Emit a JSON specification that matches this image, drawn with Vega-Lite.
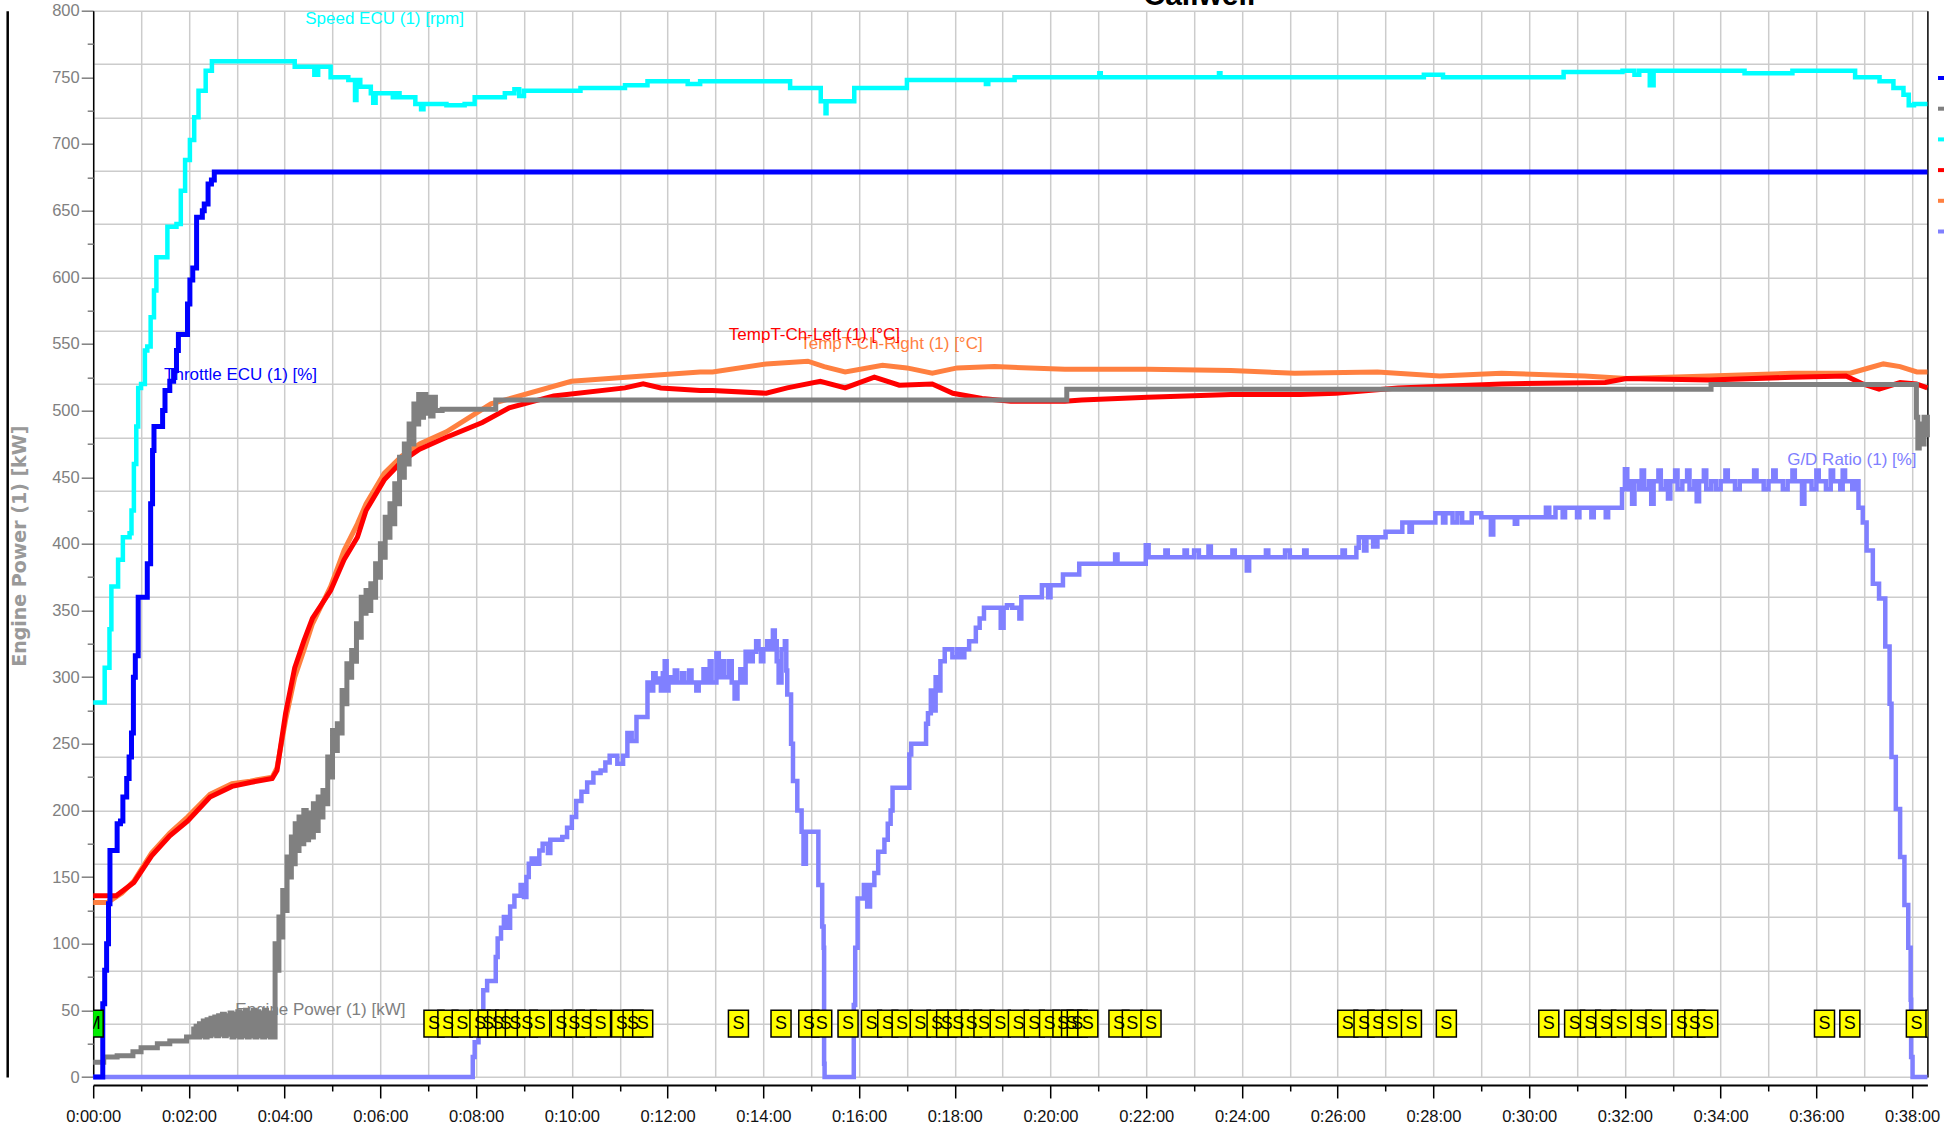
{
  "$schema": "https://vega.github.io/schema/vega-lite/v6.json",
  "width": 1834.2,
  "height": 1066.3,
  "autosize": {"type": "none"},
  "padding": {"left": 93.2, "top": 10.7, "right": 16.6, "bottom": 55},
  "background": "white",
  "config": {"view": {"stroke": null}},
  "datasets": {
    "thr": [{"t":0,"v":0},{"t":0.2,"v":0},{"t":0.2,"v":55},{"t":0.24,"v":80},{"t":0.28,"v":100},{"t":0.32,"v":130},{"t":0.35,"v":170},{"t":0.45,"v":170},{"t":0.5,"v":190},{"t":0.57,"v":192},{"t":0.62,"v":210},{"t":0.7,"v":224},{"t":0.75,"v":240},{"t":0.8,"v":258},{"t":0.84,"v":300},{"t":0.88,"v":316},{"t":0.94,"v":360},{"t":1.08,"v":360},{"t":1.13,"v":385},{"t":1.2,"v":430},{"t":1.24,"v":470},{"t":1.27,"v":488},{"t":1.4,"v":488},{"t":1.45,"v":500},{"t":1.5,"v":515},{"t":1.6,"v":522},{"t":1.68,"v":530},{"t":1.74,"v":545},{"t":1.78,"v":557},{"t":1.9,"v":557},{"t":1.97,"v":580},{"t":2.02,"v":598},{"t":2.08,"v":607},{"t":2.16,"v":645},{"t":2.28,"v":650},{"t":2.32,"v":655},{"t":2.4,"v":670},{"t":2.47,"v":673},{"t":2.53,"v":679},{"t":38.32,"v":679}],
    "spd": [{"t":0,"v":281},{"t":0.24,"v":281},{"t":0.24,"v":307},{"t":0.34,"v":336},{"t":0.38,"v":368},{"t":0.52,"v":388},{"t":0.62,"v":405},{"t":0.76,"v":408},{"t":0.8,"v":425},{"t":0.85,"v":460},{"t":0.9,"v":488},{"t":0.94,"v":517},{"t":1.0,"v":520},{"t":1.08,"v":545},{"t":1.13,"v":548},{"t":1.2,"v":570},{"t":1.27,"v":590},{"t":1.32,"v":615},{"t":1.5,"v":615},{"t":1.55,"v":638},{"t":1.74,"v":640},{"t":1.83,"v":665},{"t":1.92,"v":688},{"t":2.02,"v":703},{"t":2.11,"v":720},{"t":2.2,"v":740},{"t":2.35,"v":755},{"t":2.48,"v":762},{"t":4.07,"v":762},{"t":4.21,"v":758},{"t":4.58,"v":758},{"t":4.62,"v":752},{"t":4.7,"v":758},{"t":4.96,"v":750},{"t":5.33,"v":748},{"t":5.45,"v":748},{"t":5.47,"v":733},{"t":5.5,"v":748},{"t":5.58,"v":743},{"t":5.8,"v":738},{"t":5.85,"v":731},{"t":5.9,"v":738},{"t":6.26,"v":735},{"t":6.35,"v":738},{"t":6.4,"v":735},{"t":6.73,"v":730},{"t":6.85,"v":726},{"t":6.9,"v":730},{"t":7.38,"v":729},{"t":7.76,"v":730},{"t":7.97,"v":735},{"t":8.6,"v":738},{"t":8.8,"v":741},{"t":8.9,"v":736},{"t":9.0,"v":740},{"t":10.18,"v":742},{"t":11.11,"v":744},{"t":11.58,"v":747},{"t":12.42,"v":745},{"t":12.68,"v":747},{"t":14.55,"v":747},{"t":14.56,"v":742},{"t":15.1,"v":742},{"t":15.2,"v":732},{"t":15.3,"v":723},{"t":15.32,"v":732},{"t":15.85,"v":732},{"t":15.9,"v":742},{"t":16.97,"v":742},{"t":17.0,"v":748},{"t":18.6,"v":748},{"t":18.65,"v":745},{"t":18.7,"v":748},{"t":19.21,"v":748},{"t":19.25,"v":750},{"t":21.0,"v":750},{"t":21.02,"v":753},{"t":21.05,"v":750},{"t":23.5,"v":750},{"t":23.52,"v":753},{"t":23.55,"v":750},{"t":27.3,"v":750},{"t":27.8,"v":752},{"t":28.2,"v":750},{"t":30.72,"v":754},{"t":31.95,"v":755},{"t":32.2,"v":752},{"t":32.3,"v":755},{"t":32.52,"v":744},{"t":32.6,"v":755},{"t":34.5,"v":753},{"t":35.5,"v":755},{"t":36.74,"v":755},{"t":36.81,"v":750},{"t":37.32,"v":747},{"t":37.61,"v":742},{"t":37.82,"v":737},{"t":37.93,"v":729},{"t":38.04,"v":730},{"t":38.32,"v":730}],
    "tl": [{"t":0,"v":136},{"t":0.48,"v":136},{"t":0.85,"v":146},{"t":1.22,"v":166},{"t":1.6,"v":181},{"t":1.97,"v":192},{"t":2.44,"v":210},{"t":2.9,"v":218},{"t":3.28,"v":221},{"t":3.74,"v":224},{"t":3.84,"v":230},{"t":4.02,"v":273},{"t":4.21,"v":307},{"t":4.4,"v":327},{"t":4.58,"v":344},{"t":4.96,"v":365},{"t":5.24,"v":388},{"t":5.52,"v":405},{"t":5.7,"v":425},{"t":6.08,"v":448},{"t":6.45,"v":462},{"t":6.82,"v":471},{"t":7.38,"v":480},{"t":8.13,"v":491},{"t":8.69,"v":502},{"t":9.62,"v":511},{"t":11.11,"v":517},{"t":11.49,"v":520},{"t":11.86,"v":517},{"t":12.68,"v":515},{"t":12.94,"v":515},{"t":14.06,"v":513},{"t":14.5,"v":517},{"t":15.19,"v":522},{"t":15.71,"v":517},{"t":16.32,"v":525},{"t":16.84,"v":519},{"t":17.53,"v":520},{"t":17.96,"v":513},{"t":18.57,"v":509},{"t":19.17,"v":507},{"t":20.3,"v":507},{"t":20.65,"v":508},{"t":22.03,"v":510},{"t":23.77,"v":512},{"t":25.22,"v":512},{"t":25.96,"v":513},{"t":27.26,"v":517},{"t":29.43,"v":520},{"t":31.59,"v":521},{"t":32.03,"v":524},{"t":33.76,"v":523},{"t":35.49,"v":525},{"t":36.62,"v":526},{"t":36.97,"v":520},{"t":37.31,"v":516},{"t":37.75,"v":521},{"t":38.09,"v":520},{"t":38.32,"v":517}],
    "tr": [{"t":0,"v":131},{"t":0.3,"v":131},{"t":0.6,"v":138},{"t":0.85,"v":147},{"t":1.22,"v":168},{"t":1.6,"v":183},{"t":1.97,"v":195},{"t":2.44,"v":212},{"t":2.9,"v":220},{"t":3.28,"v":222},{"t":3.74,"v":225},{"t":3.84,"v":232},{"t":4.02,"v":268},{"t":4.21,"v":300},{"t":4.4,"v":320},{"t":4.58,"v":340},{"t":4.96,"v":368},{"t":5.24,"v":395},{"t":5.52,"v":415},{"t":5.7,"v":430},{"t":6.08,"v":453},{"t":6.45,"v":466},{"t":6.82,"v":475},{"t":7.38,"v":484},{"t":8.31,"v":505},{"t":9.99,"v":522},{"t":11.49,"v":526},{"t":12.68,"v":529},{"t":12.94,"v":529},{"t":14.06,"v":535},{"t":14.93,"v":537},{"t":15.27,"v":533},{"t":15.71,"v":529},{"t":16.49,"v":534},{"t":17.0,"v":532},{"t":17.53,"v":528},{"t":18.05,"v":532},{"t":18.83,"v":533},{"t":20.3,"v":531},{"t":22.03,"v":531},{"t":23.77,"v":530},{"t":25.1,"v":528},{"t":26.83,"v":529},{"t":28.13,"v":526},{"t":29.42,"v":528},{"t":31.16,"v":526},{"t":32.03,"v":524},{"t":33.76,"v":526},{"t":35.49,"v":528},{"t":36.71,"v":528},{"t":37.0,"v":531},{"t":37.4,"v":535},{"t":37.75,"v":533},{"t":38.1,"v":529},{"t":38.32,"v":529}],
    "pwr": [{"t":0,"v":11},{"t":0.22,"v":11},{"t":0.22,"v":15},{"t":0.5,"v":16},{"t":0.83,"v":19},{"t":1.0,"v":22},{"t":1.34,"v":25},{"t":1.6,"v":27},{"t":1.95,"v":30},{"t":2.1,"v":36},{"t":2.15,"v":38},{"t":2.18,"v":30},{"t":2.22,"v":40},{"t":2.26,"v":31},{"t":2.3,"v":42},{"t":2.34,"v":30},{"t":2.38,"v":43},{"t":2.42,"v":31},{"t":2.46,"v":44},{"t":2.5,"v":32},{"t":2.54,"v":45},{"t":2.58,"v":31},{"t":2.62,"v":46},{"t":2.66,"v":32},{"t":2.7,"v":47},{"t":2.74,"v":31},{"t":2.78,"v":46},{"t":2.82,"v":32},{"t":2.86,"v":48},{"t":2.9,"v":30},{"t":2.94,"v":47},{"t":2.98,"v":31},{"t":3.02,"v":49},{"t":3.06,"v":30},{"t":3.1,"v":48},{"t":3.14,"v":31},{"t":3.18,"v":50},{"t":3.22,"v":30},{"t":3.26,"v":48},{"t":3.3,"v":31},{"t":3.34,"v":50},{"t":3.38,"v":30},{"t":3.42,"v":49},{"t":3.46,"v":31},{"t":3.5,"v":48},{"t":3.54,"v":30},{"t":3.58,"v":50},{"t":3.62,"v":31},{"t":3.66,"v":48},{"t":3.7,"v":30},{"t":3.74,"v":47},{"t":3.77,"v":30},{"t":3.8,"v":100},{"t":3.84,"v":80},{"t":3.88,"v":120},{"t":3.92,"v":105},{"t":3.96,"v":140},{"t":4.0,"v":125},{"t":4.05,"v":165},{"t":4.1,"v":150},{"t":4.14,"v":180},{"t":4.18,"v":160},{"t":4.22,"v":190},{"t":4.26,"v":170},{"t":4.3,"v":195},{"t":4.35,"v":175},{"t":4.4,"v":200},{"t":4.45,"v":178},{"t":4.5,"v":198},{"t":4.55,"v":180},{"t":4.6,"v":205},{"t":4.65,"v":185},{"t":4.7,"v":210},{"t":4.75,"v":195},{"t":4.8,"v":215},{"t":4.85,"v":205},{"t":4.9,"v":240},{"t":4.95,"v":225},{"t":5.0,"v":260},{"t":5.05,"v":245},{"t":5.1,"v":265},{"t":5.15,"v":258},{"t":5.2,"v":290},{"t":5.25,"v":280},{"t":5.3,"v":310},{"t":5.35,"v":300},{"t":5.4,"v":320},{"t":5.45,"v":312},{"t":5.5,"v":340},{"t":5.55,"v":330},{"t":5.6,"v":360},{"t":5.65,"v":348},{"t":5.7,"v":365},{"t":5.75,"v":350},{"t":5.8,"v":370},{"t":5.85,"v":360},{"t":5.9,"v":385},{"t":5.95,"v":375},{"t":6.0,"v":400},{"t":6.05,"v":390},{"t":6.1,"v":420},{"t":6.15,"v":405},{"t":6.2,"v":430},{"t":6.25,"v":415},{"t":6.3,"v":445},{"t":6.35,"v":430},{"t":6.4,"v":465},{"t":6.45,"v":450},{"t":6.5,"v":475},{"t":6.55,"v":460},{"t":6.6,"v":490},{"t":6.65,"v":475},{"t":6.7,"v":505},{"t":6.75,"v":490},{"t":6.8,"v":512},{"t":6.85,"v":495},{"t":6.9,"v":512},{"t":6.95,"v":498},{"t":7.0,"v":510},{"t":7.05,"v":496},{"t":7.1,"v":510},{"t":7.15,"v":500},{"t":7.29,"v":501},{"t":8.32,"v":501},{"t":8.41,"v":508},{"t":20.3,"v":508},{"t":20.34,"v":516},{"t":33.76,"v":516},{"t":33.8,"v":519.5},{"t":38.05,"v":519.5},{"t":38.09,"v":495},{"t":38.12,"v":472},{"t":38.15,"v":490},{"t":38.2,"v":475},{"t":38.25,"v":495},{"t":38.32,"v":480}],
    "gd": [{"t":0,"v":0},{"t":7.89,"v":0},{"t":7.93,"v":15},{"t":7.97,"v":26},{"t":8.05,"v":45},{"t":8.15,"v":65},{"t":8.23,"v":72},{"t":8.38,"v":72},{"t":8.41,"v":90},{"t":8.45,"v":104},{"t":8.52,"v":112},{"t":8.58,"v":120},{"t":8.64,"v":112},{"t":8.71,"v":128},{"t":8.8,"v":136},{"t":8.93,"v":144},{"t":9.0,"v":135},{"t":9.05,"v":150},{"t":9.1,"v":160},{"t":9.16,"v":164},{"t":9.25,"v":160},{"t":9.32,"v":170},{"t":9.39,"v":175},{"t":9.5,"v":168},{"t":9.55,"v":178},{"t":9.67,"v":178},{"t":9.8,"v":180},{"t":9.9,"v":187},{"t":10.0,"v":195},{"t":10.09,"v":207},{"t":10.2,"v":214},{"t":10.32,"v":221},{"t":10.45,"v":228},{"t":10.6,"v":230},{"t":10.7,"v":236},{"t":10.79,"v":241},{"t":10.95,"v":235},{"t":11.07,"v":241},{"t":11.16,"v":258},{"t":11.25,"v":252},{"t":11.35,"v":270},{"t":11.49,"v":270},{"t":11.58,"v":296},{"t":11.65,"v":290},{"t":11.7,"v":303},{"t":11.75,"v":296},{"t":11.81,"v":299},{"t":11.86,"v":290},{"t":11.9,"v":303},{"t":11.94,"v":312},{"t":11.98,"v":290},{"t":12.02,"v":300},{"t":12.1,"v":296},{"t":12.15,"v":305},{"t":12.2,"v":296},{"t":12.3,"v":303},{"t":12.35,"v":296},{"t":12.45,"v":305},{"t":12.5,"v":296},{"t":12.6,"v":290},{"t":12.65,"v":296},{"t":12.75,"v":306},{"t":12.8,"v":296},{"t":12.88,"v":312},{"t":12.92,"v":296},{"t":13.02,"v":318},{"t":13.07,"v":300},{"t":13.12,"v":312},{"t":13.18,"v":300},{"t":13.28,"v":312},{"t":13.34,"v":296},{"t":13.4,"v":284},{"t":13.46,"v":296},{"t":13.52,"v":306},{"t":13.59,"v":296},{"t":13.63,"v":319},{"t":13.7,"v":312},{"t":13.78,"v":319},{"t":13.85,"v":327},{"t":13.9,"v":321},{"t":13.95,"v":312},{"t":14.0,"v":321},{"t":14.08,"v":327},{"t":14.15,"v":321},{"t":14.2,"v":335},{"t":14.24,"v":327},{"t":14.28,"v":312},{"t":14.32,"v":296},{"t":14.38,"v":321},{"t":14.45,"v":327},{"t":14.48,"v":305},{"t":14.5,"v":287},{"t":14.58,"v":250},{"t":14.62,"v":222},{"t":14.71,"v":200},{"t":14.8,"v":184},{"t":14.84,"v":160},{"t":14.89,"v":184},{"t":15.1,"v":184},{"t":15.15,"v":144},{"t":15.23,"v":113},{"t":15.26,"v":97},{"t":15.27,"v":10},{"t":15.28,"v":0},{"t":15.88,"v":0},{"t":15.89,"v":54},{"t":15.92,"v":97},{"t":15.97,"v":134},{"t":16.1,"v":144},{"t":16.17,"v":128},{"t":16.23,"v":144},{"t":16.32,"v":153},{"t":16.4,"v":169},{"t":16.53,"v":178},{"t":16.6,"v":190},{"t":16.66,"v":200},{"t":16.7,"v":217},{"t":17.0,"v":217},{"t":17.05,"v":242},{"t":17.09,"v":250},{"t":17.31,"v":250},{"t":17.4,"v":265},{"t":17.44,"v":273},{"t":17.5,"v":290},{"t":17.56,"v":275},{"t":17.6,"v":300},{"t":17.66,"v":290},{"t":17.7,"v":312},{"t":17.79,"v":321},{"t":17.95,"v":315},{"t":18.05,"v":321},{"t":18.14,"v":315},{"t":18.2,"v":321},{"t":18.3,"v":327},{"t":18.44,"v":337},{"t":18.52,"v":344},{"t":18.61,"v":352},{"t":18.92,"v":352},{"t":18.96,"v":337},{"t":19.02,"v":352},{"t":19.09,"v":354},{"t":19.2,"v":352},{"t":19.35,"v":344},{"t":19.39,"v":360},{"t":19.78,"v":360},{"t":19.82,"v":369},{"t":19.95,"v":360},{"t":20.0,"v":369},{"t":20.21,"v":369},{"t":20.26,"v":377},{"t":20.56,"v":377},{"t":20.6,"v":385},{"t":21.3,"v":385},{"t":21.35,"v":392},{"t":21.4,"v":385},{"t":21.95,"v":385},{"t":21.99,"v":399},{"t":22.05,"v":390},{"t":22.4,"v":395},{"t":22.45,"v":390},{"t":22.8,"v":395},{"t":22.85,"v":390},{"t":23.0,"v":395},{"t":23.1,"v":390},{"t":23.3,"v":398},{"t":23.35,"v":390},{"t":23.8,"v":395},{"t":23.85,"v":390},{"t":24.1,"v":380},{"t":24.15,"v":390},{"t":24.5,"v":395},{"t":24.55,"v":390},{"t":24.9,"v":395},{"t":25.0,"v":390},{"t":25.3,"v":395},{"t":25.35,"v":390},{"t":26.1,"v":395},{"t":26.15,"v":390},{"t":26.39,"v":397},{"t":26.44,"v":405},{"t":26.55,"v":395},{"t":26.6,"v":405},{"t":26.74,"v":398},{"t":26.83,"v":405},{"t":27.0,"v":409},{"t":27.17,"v":409},{"t":27.35,"v":416},{"t":27.5,"v":409},{"t":27.55,"v":416},{"t":27.95,"v":416},{"t":28.04,"v":423},{"t":28.2,"v":416},{"t":28.25,"v":423},{"t":28.4,"v":416},{"t":28.5,"v":423},{"t":28.6,"v":416},{"t":28.8,"v":423},{"t":29.0,"v":420},{"t":29.2,"v":407},{"t":29.25,"v":420},{"t":29.5,"v":420},{"t":29.7,"v":415},{"t":29.75,"v":420},{"t":30.29,"v":420},{"t":30.35,"v":427},{"t":30.42,"v":420},{"t":30.55,"v":427},{"t":30.7,"v":420},{"t":30.75,"v":427},{"t":31.0,"v":420},{"t":31.05,"v":427},{"t":31.3,"v":420},{"t":31.35,"v":427},{"t":31.6,"v":420},{"t":31.65,"v":427},{"t":31.85,"v":427},{"t":31.94,"v":441},{"t":32.0,"v":456},{"t":32.05,"v":441},{"t":32.1,"v":447},{"t":32.15,"v":430},{"t":32.2,"v":447},{"t":32.3,"v":441},{"t":32.35,"v":455},{"t":32.4,"v":441},{"t":32.5,"v":447},{"t":32.55,"v":430},{"t":32.6,"v":447},{"t":32.7,"v":455},{"t":32.75,"v":441},{"t":32.85,"v":447},{"t":32.9,"v":434},{"t":32.95,"v":447},{"t":33.05,"v":455},{"t":33.1,"v":441},{"t":33.2,"v":447},{"t":33.3,"v":455},{"t":33.35,"v":441},{"t":33.45,"v":447},{"t":33.5,"v":432},{"t":33.55,"v":447},{"t":33.65,"v":455},{"t":33.7,"v":441},{"t":33.8,"v":447},{"t":33.9,"v":441},{"t":34.0,"v":447},{"t":34.1,"v":455},{"t":34.15,"v":447},{"t":34.3,"v":441},{"t":34.4,"v":447},{"t":34.6,"v":447},{"t":34.7,"v":455},{"t":34.75,"v":447},{"t":34.9,"v":441},{"t":35.0,"v":447},{"t":35.1,"v":455},{"t":35.15,"v":447},{"t":35.3,"v":441},{"t":35.4,"v":447},{"t":35.5,"v":455},{"t":35.55,"v":447},{"t":35.7,"v":430},{"t":35.75,"v":447},{"t":35.9,"v":441},{"t":36.0,"v":455},{"t":36.05,"v":447},{"t":36.2,"v":441},{"t":36.3,"v":455},{"t":36.35,"v":447},{"t":36.5,"v":441},{"t":36.55,"v":455},{"t":36.6,"v":447},{"t":36.75,"v":441},{"t":36.79,"v":447},{"t":36.88,"v":427},{"t":36.97,"v":416},{"t":37.05,"v":395},{"t":37.18,"v":370},{"t":37.31,"v":359},{"t":37.4,"v":359},{"t":37.44,"v":323},{"t":37.53,"v":280},{"t":37.57,"v":240},{"t":37.66,"v":201},{"t":37.75,"v":165},{"t":37.84,"v":129},{"t":37.92,"v":97},{"t":37.97,"v":58},{"t":37.98,"v":15},{"t":38.01,"v":0},{"t":38.32,"v":0}],
    "labels": [{"t":4.43,"v":793.8,"name":"Speed ECU (1) [rpm]"},{"t":1.48,"v":526.7,"name":"Throttle ECU (1) [%]"},{"t":14.77,"v":549.7,"name":"TempT-Ch-Right (1) [°C]"},{"t":13.28,"v":556.7,"name":"TempT-Ch-Left (1) [°C]"},{"t":2.97,"v":50.3,"name":"Engine Power (1) [kW]"},{"t":35.39,"v":463,"name":"G/D Ratio (1) [%]"}],
    "heading": [{"t":23.11,"v":804.6,"text":"Callwell"}],
    "smarks": [{"t":7.12,"v":40},{"t":7.41,"v":40},{"t":7.71,"v":40},{"t":8.08,"v":40},{"t":8.25,"v":40},{"t":8.45,"v":40},{"t":8.62,"v":40},{"t":8.82,"v":40},{"t":9.07,"v":40},{"t":9.33,"v":40},{"t":9.78,"v":40},{"t":10.05,"v":40},{"t":10.3,"v":40},{"t":10.6,"v":40},{"t":11.04,"v":40},{"t":11.28,"v":40},{"t":11.48,"v":40},{"t":13.48,"v":40},{"t":14.37,"v":40},{"t":14.95,"v":40},{"t":15.22,"v":40},{"t":15.77,"v":40},{"t":16.26,"v":40},{"t":16.6,"v":40},{"t":16.9,"v":40},{"t":17.28,"v":40},{"t":17.63,"v":40},{"t":17.83,"v":40},{"t":18.07,"v":40},{"t":18.35,"v":40},{"t":18.61,"v":40},{"t":18.95,"v":40},{"t":19.33,"v":40},{"t":19.66,"v":40},{"t":19.98,"v":40},{"t":20.26,"v":40},{"t":20.44,"v":40},{"t":20.56,"v":40},{"t":20.78,"v":40},{"t":21.43,"v":40},{"t":21.71,"v":40},{"t":22.1,"v":40},{"t":26.21,"v":40},{"t":26.55,"v":40},{"t":26.84,"v":40},{"t":27.14,"v":40},{"t":27.54,"v":40},{"t":28.27,"v":40},{"t":30.41,"v":40},{"t":30.95,"v":40},{"t":31.28,"v":40},{"t":31.6,"v":40},{"t":31.93,"v":40},{"t":32.34,"v":40},{"t":32.65,"v":40},{"t":33.19,"v":40},{"t":33.46,"v":40},{"t":33.73,"v":40},{"t":36.17,"v":40},{"t":36.7,"v":40},{"t":38.09,"v":40},{"t":38.5,"v":40}],
    "mmarks": [{"t":0,"v":40}]
  },
  "layer": [
    {
      "data": {"name": "gd"},
      "mark": {"type": "line", "strokeWidth": 4.5, "interpolate": "step-after"},
      "encoding": {
        "x": {"field": "t", "type": "quantitative", "scale": {"domain": [0, 38.32], "nice": false, "zero": false},
              "axis": {"orient": "bottom", "values": [0,1,2,3,4,5,6,7,8,9,10,11,12,13,14,15,16,17,18,19,20,21,22,23,24,25,26,27,28,29,30,31,32,33,34,35,36,37,38], "grid": true, "gridColor": "#cccccc", "gridWidth": 1.5, "labels": false, "ticks": false, "domain": false, "title": null}},
        "y": {"field": "v", "type": "quantitative", "scale": {"domain": [0, 800], "nice": false},
              "axis": {"orient": "left", "values": [0,40,80,120,160,200,240,280,320,360,400,440,480,520,560,600,640,680,720,760,800], "grid": true, "gridColor": "#cccccc", "gridWidth": 1.5, "labels": false, "ticks": false, "domain": false, "title": null}},
        "color": {"datum": "G/D Ratio (1) [%]", "type": "nominal",
                  "scale": {"domain": ["Throttle ECU (1) [%]", "Engine Power (1) [kW]", "Speed ECU (1) [rpm]", "TempT-Ch-Left (1) [°C]", "TempT-Ch-Right (1) [°C]", "G/D Ratio (1) [%]"],
                            "range": ["#0000ff", "#808080", "#00ffff", "#ff0000", "#ff8040", "#8080ff"]},
                  "legend": {"orient": "none", "legendX": 1842.8, "legendY": 59.3, "title": null, "padding": 0, "symbolType": "stroke", "symbolSize": 144, "symbolStrokeWidth": 4, "labelFontSize": 10, "rowPadding": 14.7, "labelColor": "#000000"}}
      }
    },
    {
      "data": {"name": "labels"},
      "mark": {"type": "text", "align": "left", "baseline": "middle", "font": "Liberation Sans", "fontSize": 17},
      "encoding": {
        "x": {"field": "t", "type": "quantitative", "scale": {"domain": [0, 38.32], "nice": false, "zero": false}, "axis": null},
        "y": {"field": "v", "type": "quantitative", "scale": {"domain": [0, 800], "nice": false}, "axis": null},
        "text": {"field": "name"},
        "color": {"field": "name", "type": "nominal", "legend": null}
      }
    },
    {
      "data": {"name": "heading"},
      "mark": {"type": "text", "align": "center", "baseline": "alphabetic", "font": "Liberation Sans", "fontWeight": "bold", "fontSize": 30, "color": "#000000"},
      "encoding": {
        "x": {"field": "t", "type": "quantitative", "scale": {"domain": [0, 38.32], "nice": false, "zero": false}, "axis": null},
        "y": {"field": "v", "type": "quantitative", "scale": {"domain": [0, 800], "nice": false}, "axis": null},
        "text": {"field": "text"}
      }
    },
    {
      "data": {"name": "tr"},
      "mark": {"type": "line", "stroke": "#ff8040", "strokeWidth": 5},
      "encoding": {
        "x": {"field": "t", "type": "quantitative", "scale": {"domain": [0, 38.32], "nice": false, "zero": false},
              "axis": {"orient": "bottom", "offset": 8, "values": [0,2,4,6,8,10,12,14,16,18,20,22,24,26,28,30,32,34,36,38], "grid": false, "tickSize": 13, "tickWidth": 1.5, "tickColor": "#000000", "domainColor": "#000000", "domainWidth": 2, "labelExpr": "'0:' + (datum.value < 10 ? '0' : '') + datum.value + ':00'", "labelFont": "Liberation Sans", "labelFontSize": 16.5, "labelColor": "#111111", "labelPadding": 10, "labelFlush": false, "labelOverlap": false, "title": null}},
        "y": {"field": "v", "type": "quantitative", "scale": {"domain": [0, 800], "nice": false},
              "axis": {"orient": "left", "values": [0,50,100,150,200,250,300,350,400,450,500,550,600,650,700,750,800], "grid": false, "tickSize": 12, "tickWidth": 1.5, "tickColor": "#808080", "domainColor": "#000000", "domainWidth": 1.5, "labelFont": "Liberation Sans", "labelFontSize": 16.5, "labelColor": "#808080", "labelPadding": 2, "labelFlush": false, "labelOverlap": false,
                       "title": "Engine Power (1) [kW]", "titleFont": "DejaVu Sans", "titleFontWeight": "bold", "titleFontSize": 19, "titleColor": "#999999", "titleX": -74, "titleY": 535, "titleAngle": 270, "titleAlign": "center", "titleBaseline": "middle"}}
      }
    },
    {
      "data": {"name": "tl"},
      "mark": {"type": "line", "stroke": "#ff0000", "strokeWidth": 5},
      "encoding": {
        "x": {"field": "t", "type": "quantitative", "scale": {"domain": [0, 38.32], "nice": false, "zero": false},
              "axis": {"orient": "bottom", "offset": 8, "values": [1,3,5,7,9,11,13,15,17,19,21,23,25,27,29,31,33,35,37], "grid": false, "tickSize": 6, "tickWidth": 1.5, "tickColor": "#000000", "domain": false, "labels": false, "title": null}},
        "y": {"field": "v", "type": "quantitative", "scale": {"domain": [0, 800], "nice": false},
              "axis": {"orient": "right", "grid": false, "ticks": false, "labels": false, "domain": true, "domainColor": "#000000", "domainWidth": 1.5, "title": null}}
      }
    },
    {
      "data": {"name": "spd"},
      "mark": {"type": "line", "stroke": "#00ffff", "strokeWidth": 4.5, "interpolate": "step-after"},
      "encoding": {
        "x": {"field": "t", "type": "quantitative", "scale": {"domain": [0, 38.32], "nice": false, "zero": false}, "axis": null},
        "y": {"field": "v", "type": "quantitative", "scale": {"domain": [0, 800], "nice": false},
              "axis": {"orient": "left", "values": [25,75,125,175,225,275,325,375,425,475,525,575,625,675,725,775], "grid": false, "tickSize": 6, "tickWidth": 1.5, "tickColor": "#808080", "domain": false, "labels": false, "title": null}}
      }
    },
    {
      "data": {"name": "pwr"},
      "mark": {"type": "line", "stroke": "#808080", "strokeWidth": 5, "interpolate": "step-after"},
      "encoding": {
        "x": {"field": "t", "type": "quantitative", "scale": {"domain": [0, 38.32], "nice": false, "zero": false}, "axis": null},
        "y": {"field": "v", "type": "quantitative", "scale": {"domain": [0, 800], "nice": false},
              "axis": {"orient": "left", "offset": 86, "grid": false, "ticks": false, "labels": false, "domain": true, "domainColor": "#000000", "domainWidth": 2.5, "title": null}}
      }
    },
    {
      "data": {"name": "thr"},
      "mark": {"type": "line", "stroke": "#0000ff", "strokeWidth": 5, "interpolate": "step-after"},
      "encoding": {
        "x": {"field": "t", "type": "quantitative", "scale": {"domain": [0, 38.32], "nice": false, "zero": false}, "axis": null},
        "y": {"field": "v", "type": "quantitative", "scale": {"domain": [0, 800], "nice": false}, "axis": null}
      }
    },
    {
      "data": {"name": "smarks"},
      "mark": {"type": "point", "shape": "M-0.75,-1H0.75V1H-0.75Z", "size": 713, "fill": "#ffff00", "stroke": "#000000", "strokeWidth": 1.5, "opacity": 1, "fillOpacity": 1, "clip": true},
      "encoding": {
        "x": {"field": "t", "type": "quantitative", "scale": {"domain": [0, 38.32], "nice": false, "zero": false}, "axis": null},
        "y": {"field": "v", "type": "quantitative", "scale": {"domain": [0, 800], "nice": false}, "axis": null}
      }
    },
    {
      "data": {"name": "smarks"},
      "mark": {"type": "text", "text": "S", "font": "Liberation Sans", "fontSize": 18, "color": "#000000", "align": "center", "baseline": "middle", "clip": true},
      "encoding": {
        "x": {"field": "t", "type": "quantitative", "scale": {"domain": [0, 38.32], "nice": false, "zero": false}, "axis": null},
        "y": {"field": "v", "type": "quantitative", "scale": {"domain": [0, 800], "nice": false}, "axis": null}
      }
    },
    {
      "data": {"name": "mmarks"},
      "mark": {"type": "point", "shape": "M-0.75,-1H0.75V1H-0.75Z", "size": 713, "fill": "#00ee00", "stroke": "#000000", "strokeWidth": 1.5, "opacity": 1, "fillOpacity": 1, "clip": true},
      "encoding": {
        "x": {"field": "t", "type": "quantitative", "scale": {"domain": [0, 38.32], "nice": false, "zero": false}, "axis": null},
        "y": {"field": "v", "type": "quantitative", "scale": {"domain": [0, 800], "nice": false}, "axis": null}
      }
    },
    {
      "data": {"name": "mmarks"},
      "mark": {"type": "text", "text": "M", "font": "Liberation Sans", "fontSize": 18, "color": "#000000", "align": "center", "baseline": "middle", "clip": true},
      "encoding": {
        "x": {"field": "t", "type": "quantitative", "scale": {"domain": [0, 38.32], "nice": false, "zero": false}, "axis": null},
        "y": {"field": "v", "type": "quantitative", "scale": {"domain": [0, 800], "nice": false}, "axis": null}
      }
    }
  ],
  "resolve": {"axis": {"x": "independent", "y": "independent"}}
}
